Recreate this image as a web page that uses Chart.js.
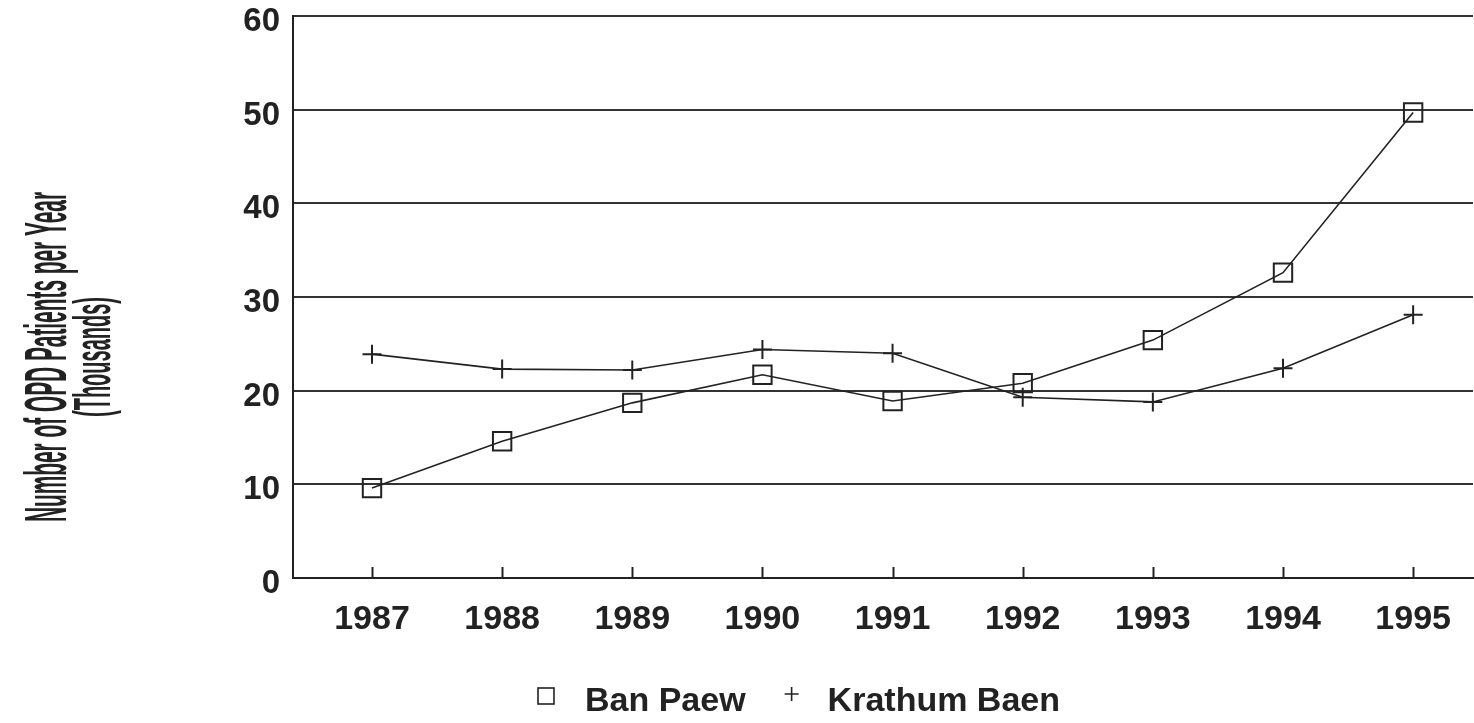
<!DOCTYPE html>
<html>
<head>
<meta charset="utf-8">
<script src="https://cdn.jsdelivr.net/npm/chart.js@4/dist/chart.umd.min.js"></script>
<style>
  html, body { margin: 0; padding: 0; background: #fff; overflow: hidden; }
  #wrap { width: 1474px; height: 723px; overflow: hidden; }
</style>
</head>
<body>
<div id="wrap"><canvas id="opdChart" width="1488" height="723"></canvas></div>
<script>
// Data (thousands of OPD patients per year)
const years = [1987, 1988, 1989, 1990, 1991, 1992, 1993, 1994, 1995];
const banPaew = [9.6, 14.6, 18.7, 21.7, 18.9, 20.8, 25.4, 32.6, 49.7];
const krathumBaen = [23.9, 22.3, 22.2, 24.4, 24.0, 19.3, 18.8, 22.4, 28.1];
const seriesNames = ["Ban Paew", "Krathum Baen"];
const yTitle = ["Number of OPD Patients per Year", "(Thousands)"];

const ink = "#222";
const labelFont = "'Liberation Sans', Arial, sans-serif";

function toPoints(vals) {
  return vals.map((v, i) => ({ x: years[i], y: v }));
}

// small tick marks pointing up into the plot at each year
const innerTicks = {
  id: "innerTicks",
  afterDatasetsDraw(chart) {
    const { ctx, chartArea, scales } = chart;
    ctx.save();
    ctx.strokeStyle = ink;
    ctx.lineWidth = 2;
    years.forEach(yr => {
      const x = Math.round(scales.x.getPixelForValue(yr)) + 0.5;
      ctx.beginPath();
      ctx.moveTo(x, chartArea.bottom);
      ctx.lineTo(x, chartArea.bottom - 11);
      ctx.stroke();
    });
    ctx.restore();
  }
};

// condensed, rotated two-line y axis title
const axisTitle = {
  id: "axisTitle",
  afterDraw(chart) {
    const ctx = chart.ctx;
    const lines = [
      { text: yTitle[0], size: 60, base: 66, len: 330 },
      { text: yTitle[1], size: 52, base: 110, len: 120 }
    ];
    const cy = 357;
    ctx.save();
    ctx.fillStyle = ink;
    ctx.textAlign = "center";
    ctx.textBaseline = "alphabetic";
    lines.forEach(l => {
      ctx.font = "bold " + l.size + "px " + labelFont;
      const w = ctx.measureText(l.text).width;
      ctx.save();
      ctx.translate(l.base, cy);
      ctx.rotate(-Math.PI / 2);
      ctx.scale(l.len / w, 1);
      ctx.fillText(l.text, 0, 0);
      ctx.restore();
    });
    ctx.restore();
  }
};

// legend row under the axis
const bottomLegend = {
  id: "bottomLegend",
  afterDraw(chart) {
    const ctx = chart.ctx;
    const y = 696;
    ctx.save();
    ctx.font = "bold 34px " + labelFont;
    ctx.fillStyle = ink;
    ctx.strokeStyle = ink;
    ctx.lineWidth = 1.6;
    ctx.textBaseline = "middle";
    ctx.textAlign = "left";

    let x = 546;
    // square
    ctx.strokeRect(x - 8, y - 8, 16, 16);
    let tx = x + 39;
    ctx.fillText(seriesNames[0], tx, y + 6);
    x = tx + ctx.measureText(seriesNames[0]).width + 46;
    // plus
    ctx.beginPath();
    ctx.moveTo(x - 7, y - 2); ctx.lineTo(x + 7, y - 2);
    ctx.moveTo(x, y - 9); ctx.lineTo(x, y + 5);
    ctx.stroke();
    tx = x + 36;
    ctx.fillText(seriesNames[1], tx, y + 6);
    ctx.restore();
  }
};

new Chart(document.getElementById("opdChart"), {
  type: "line",
  data: {
    datasets: [
      {
        label: seriesNames[0],
        data: toPoints(banPaew),
        borderColor: ink,
        borderWidth: 1.6,
        tension: 0,
        pointStyle: "rect",
        pointRadius: 13,
        pointBorderWidth: 2,
        pointBorderColor: ink,
        pointBackgroundColor: "rgba(0,0,0,0)"
      },
      {
        label: seriesNames[1],
        data: toPoints(krathumBaen),
        borderColor: ink,
        borderWidth: 1.6,
        tension: 0,
        pointStyle: "cross",
        pointRadius: 9.5,
        pointBorderWidth: 2,
        pointBorderColor: ink,
        pointBackgroundColor: "rgba(0,0,0,0)"
      }
    ]
  },
  options: {
    responsive: false,
    animation: false,
    layout: { padding: { top: 16, left: 0, right: 0, bottom: 0 } },
    plugins: {
      legend: { display: false },
      tooltip: { enabled: false }
    },
    scales: {
      x: {
        type: "linear",
        min: 1986.393,
        max: 1995.46,
        afterBuildTicks: s => { s.ticks = years.map(v => ({ value: v })); },
        afterFit: s => { s.height = 145; s.paddingLeft = 0; s.paddingRight = 0; },
        grid: { display: false },
        border: { display: true, color: ink, width: 2 },
        ticks: {
          color: ink,
          font: { family: labelFont, size: 34, weight: "bold" },
          padding: 13,
          maxRotation: 0,
          autoSkip: false,
          callback: v => String(v)
        }
      },
      y: {
        min: 0,
        max: 60,
        afterFit: s => { s.width = 293; s.paddingTop = 0; s.paddingBottom = 0; },
        grid: { color: "#333", lineWidth: 2, drawTicks: false },
        border: { display: true, color: ink, width: 2 },
        ticks: {
          stepSize: 10,
          color: ink,
          font: { family: labelFont, size: 33, weight: "bold" },
          padding: 13,
          labelOffset: 6
        }
      }
    }
  },
  plugins: [innerTicks, axisTitle, bottomLegend]
});
</script>
</body>
</html>
